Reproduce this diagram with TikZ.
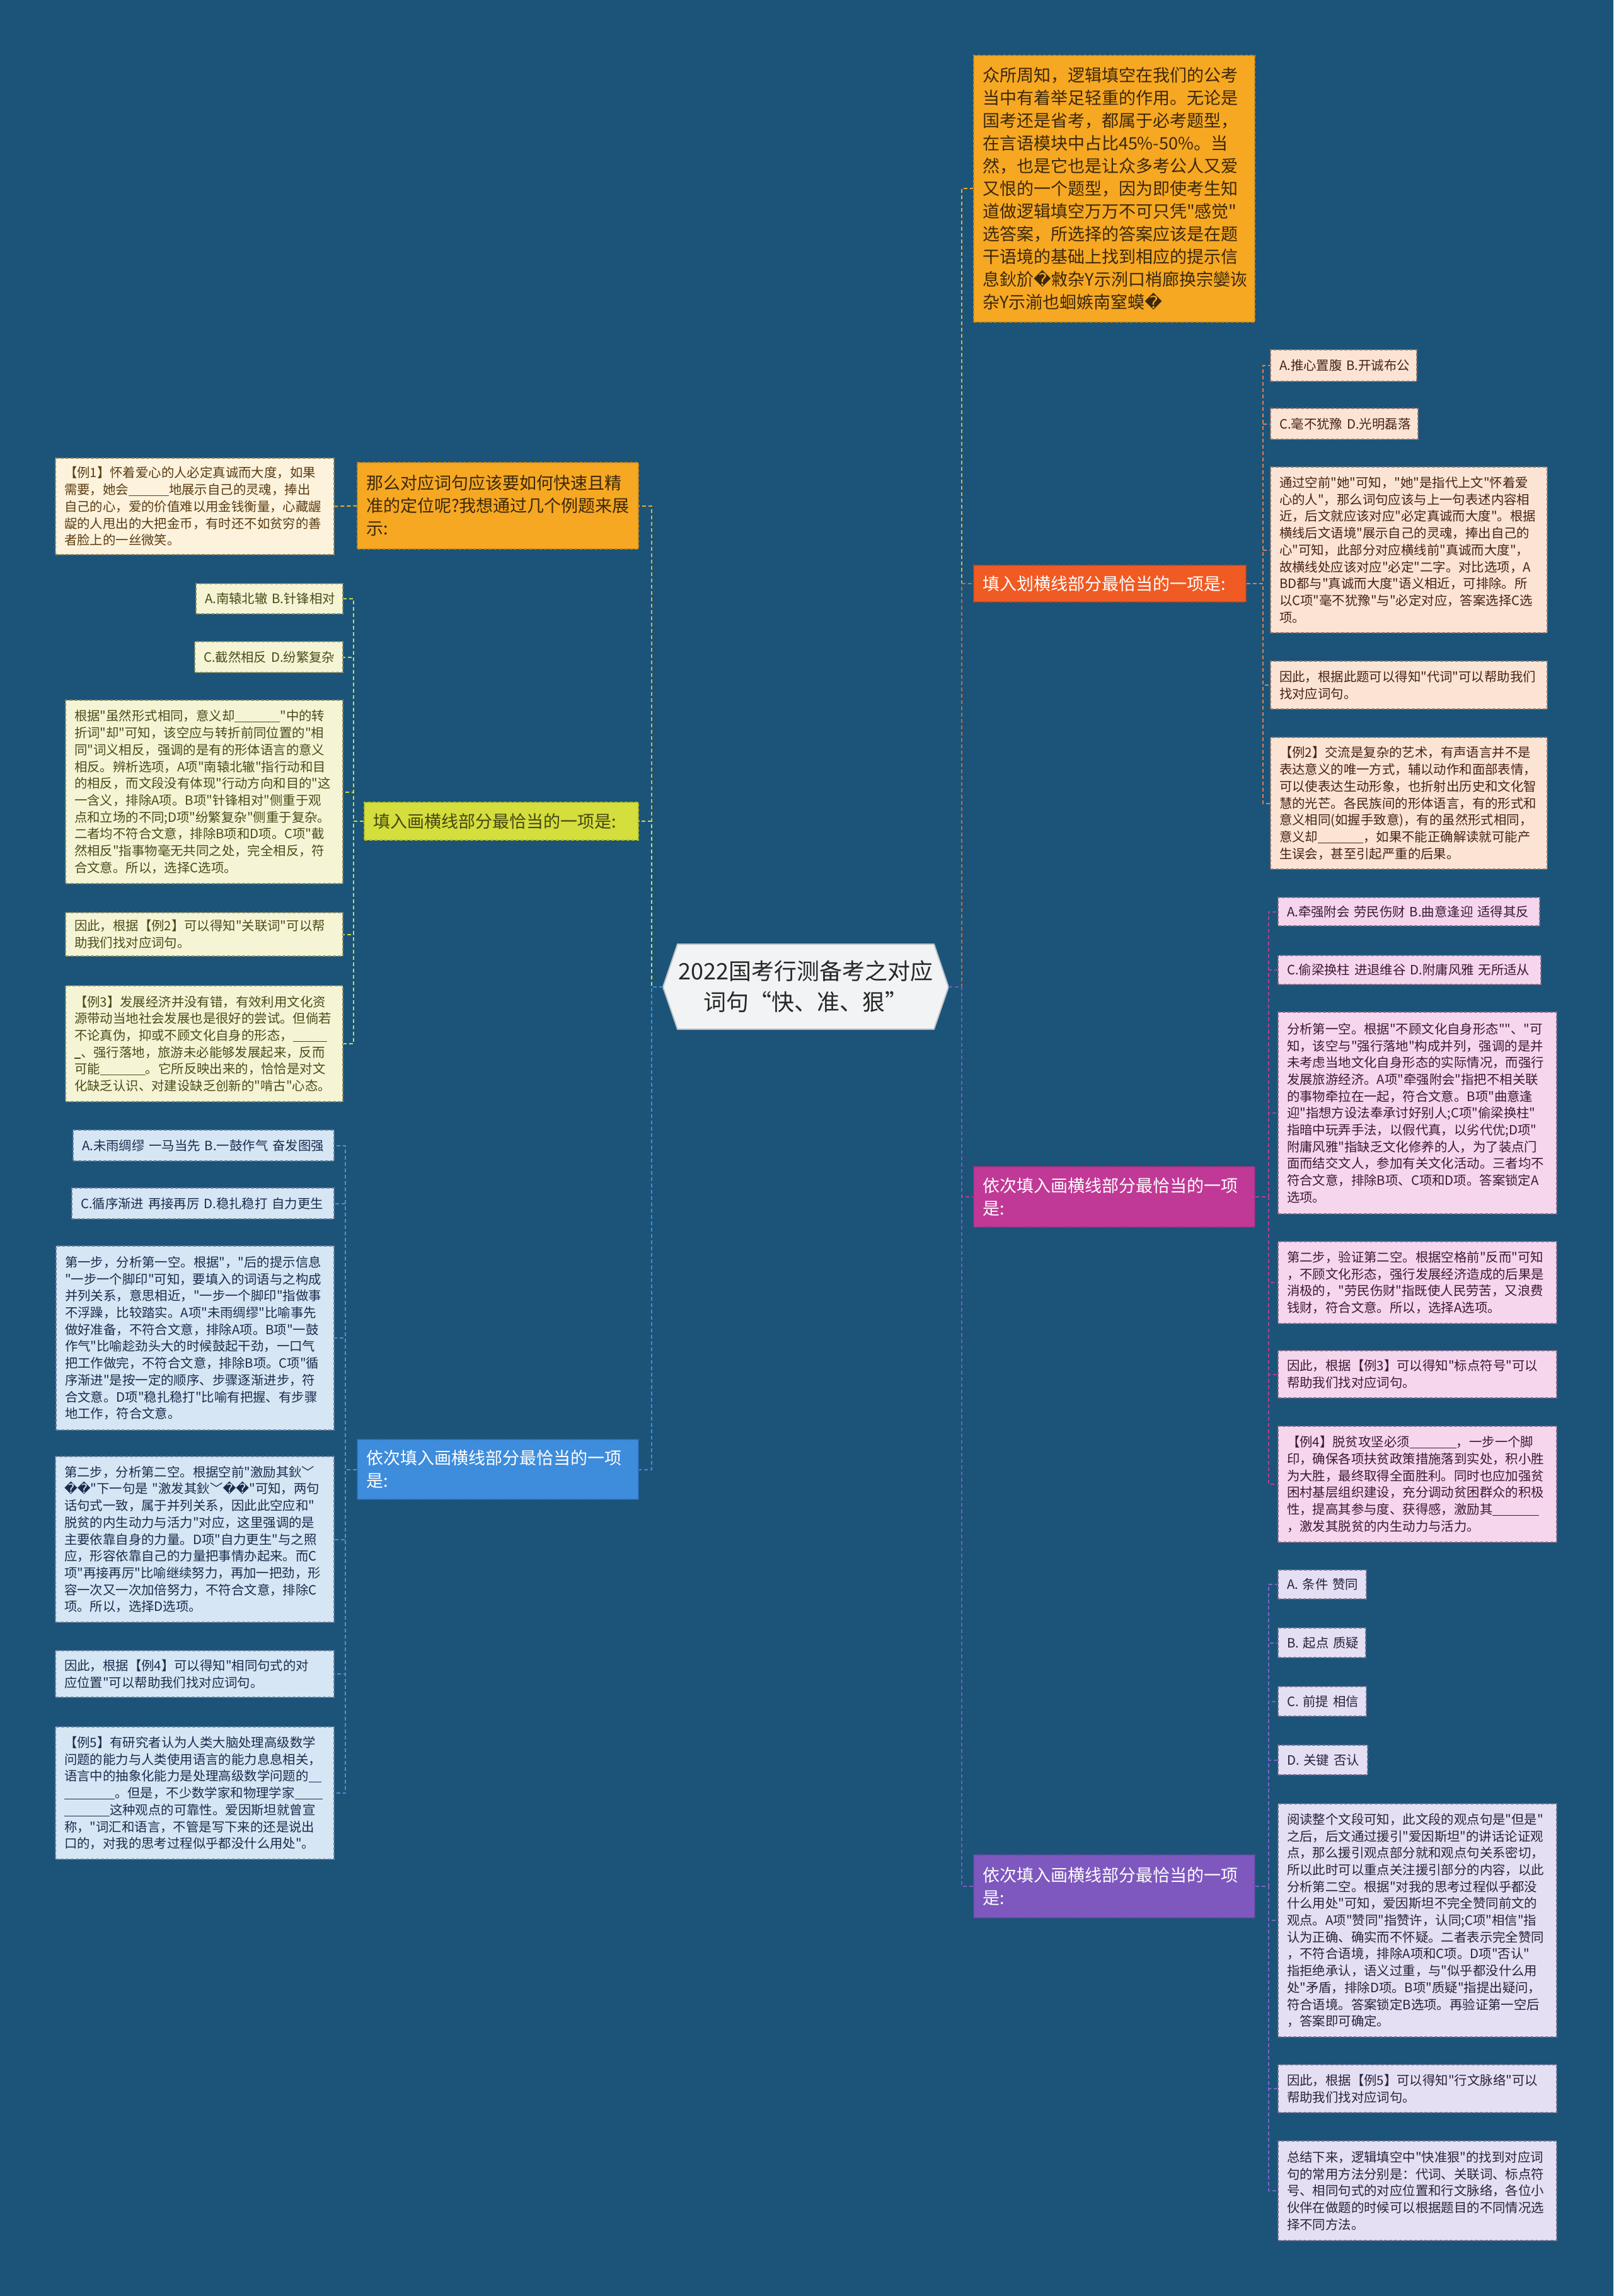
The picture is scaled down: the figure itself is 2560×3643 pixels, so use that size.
\documentclass[tikz,border=0pt]{standalone}
\usepackage{fontspec}
\newfontfamily\cjk{Noto Sans CJK SC}
\setmainfont{Noto Sans CJK SC}
\newfontfamily\dvfont{DejaVu Sans}
\newcommand\rc{{\dvfont\symbol{"FFFD}}}
\newcommand\blk[1]{\rule[-1.2pt]{#1pt}{0.6pt}}
\definecolor{bgC}{RGB}{27,84,120}
\definecolor{orF}{RGB}{246,168,35}
\definecolor{orD}{RGB}{205,135,20}
\definecolor{orT}{RGB}{60,40,10}
\definecolor{rdF}{RGB}{240,90,35}
\definecolor{rdD}{RGB}{200,70,25}
\definecolor{mgF}{RGB}{193,57,150}
\definecolor{mgD}{RGB}{160,45,125}
\definecolor{puF}{RGB}{126,88,190}
\definecolor{puD}{RGB}{100,70,160}
\definecolor{ylF}{RGB}{212,222,60}
\definecolor{ylD}{RGB}{175,185,40}
\definecolor{ylT}{RGB}{70,70,20}
\definecolor{blF}{RGB}{62,140,220}
\definecolor{blD}{RGB}{45,110,185}
\definecolor{peF}{RGB}{252,228,212}
\definecolor{peD}{RGB}{150,120,110}
\definecolor{peT}{RGB}{70,35,20}
\definecolor{pkF}{RGB}{245,214,236}
\definecolor{pkD}{RGB}{140,110,140}
\definecolor{pkT}{RGB}{60,25,55}
\definecolor{lvF}{RGB}{228,223,242}
\definecolor{lvD}{RGB}{120,115,150}
\definecolor{lvT}{RGB}{40,35,60}
\definecolor{crF}{RGB}{253,243,220}
\definecolor{crD}{RGB}{150,135,100}
\definecolor{crT}{RGB}{90,60,20}
\definecolor{yeF}{RGB}{245,245,214}
\definecolor{yeD}{RGB}{140,140,100}
\definecolor{yeT}{RGB}{75,75,25}
\definecolor{buF}{RGB}{214,230,245}
\definecolor{buD}{RGB}{110,130,160}
\definecolor{buT}{RGB}{25,45,75}
\definecolor{cenF}{RGB}{242,243,245}
\definecolor{cenD}{RGB}{190,195,200}
\definecolor{cenT}{RGB}{40,40,40}
\definecolor{cPe}{RGB}{215,130,85}
\definecolor{cPk}{RGB}{185,60,145}
\definecolor{cLv}{RGB}{125,100,195}
\definecolor{cYe}{RGB}{205,215,70}
\definecolor{cBu}{RGB}{75,145,215}
\newcommand\mybox[7]{%
 \pgfmathsetmacro\mbw{(#4-#2)*0.5}%
 \pgfmathsetmacro\mbh{(#5-#3)*0.5}%
 \pgfmathsetmacro\mbt{(#4-#2)*0.5-14}%
 \pgfmathsetmacro\mbx{(#2+#4)/2}%
 \pgfmathsetmacro\mby{(#3+#5)/2}%
 \node[#6, minimum width=\mbw pt, minimum height=\mbh pt, text width=\mbt pt] (#1) at (\mbx,\mby) {#7};}
\tikzset{
 bxbase/.style={rectangle, draw, line width=0.7pt, dash pattern=on 2.5pt off 1.5pt, align=left, inner xsep=7pt, inner ysep=4pt},
 kid/.style={bxbase, font=\cjk\fontsize{10.2}{13.35}\selectfont},
 lab/.style={bxbase, font=\cjk\fontsize{13.5}{18}\selectfont},
 peach/.style={kid, fill=peF, draw=peD, text=peT},
 pinkb/.style={kid, fill=pkF, draw=pkD, text=pkT},
 lavb/.style={kid, fill=lvF, draw=lvD, text=lvT},
 creamb/.style={kid, fill=crF, draw=crD, text=crT},
 yelb/.style={kid, fill=yeF, draw=yeD, text=yeT},
 blub/.style={kid, fill=buF, draw=buD, text=buT},
 orlab/.style={lab, fill=orF, draw=orD, text=orT},
 rdlab/.style={lab, fill=rdF, draw=rdD, text=white},
 mglab/.style={lab, fill=mgF, draw=mgD, text=white},
 pulab/.style={lab, fill=puF, draw=puD, text=white},
 yllab/.style={lab, fill=ylF, draw=ylD, text=ylT},
 bllab/.style={lab, fill=blF, draw=blD, text=white},
 cn/.style={line width=1pt, dash pattern=on 3pt off 2pt},
}
\begin{document}
\begin{tikzpicture}[x=0.5pt,y=-0.5pt]
\useasboundingbox (0,0) rectangle (2560,3643);
\fill[bgC] (0,0) rectangle (2560,3643);

% centre
\filldraw[fill=cenF, draw=cenD, line width=1pt] (1052,1566) -- (1075,1498) -- (1482,1498) -- (1505,1566) -- (1482,1633) -- (1075,1633) -- cycle;
\node[font=\cjk\fontsize{18}{24.5}\selectfont, align=center, text=cenT, minimum width=226.5pt, minimum height=67.5pt, inner sep=0pt] (c) at (1278.5,1565.5) {2022国考行测备考之对应\\词句“快、准、狠”};

% right main branches
\mybox{t1}{1545}{88}{1991}{511}{orlab}{众所周知，逻辑填空在我们的公考\\当中有着举足轻重的作用。无论是\\国考还是省考，都属于必考题型，\\在言语模块中占比45\%-50\%。当\\然，也是它也是让众多考公人又爱\\又恨的一个题型，因为即使考生知\\道做逻辑填空万万不可只凭"感觉"\\选答案，所选择的答案应该是在题\\干语境的基础上找到相应的提示信\\息鈥斺\rc 敹杂Y示洌口梢廊换宗孌诙\\杂Y示湔也蛔嫉南窒蟆\rc}
\mybox{r1}{1545}{897}{1977}{955}{rdlab}{填入划横线部分最恰当的一项是:}
\mybox{m1}{1545}{1851}{1991}{1947}{mglab}{依次填入画横线部分最恰当的一项\\是:}
\mybox{u1}{1545}{2943}{1991}{3043}{pulab}{依次填入画横线部分最恰当的一项\\是:}

% left main branches
\mybox{l1}{567}{734}{1013}{871}{orlab}{那么对应词句应该要如何快速且精\\准的定位呢?我想通过几个例题来展\\示:}
\mybox{yl}{578}{1273}{1013}{1333}{yllab}{填入画横线部分最恰当的一项是:}
\mybox{bl}{567}{2284}{1013}{2379}{bllab}{依次填入画横线部分最恰当的一项\\是:}

% peach children
\mybox{p1}{2016}{555}{2248}{605}{peach}{A.推心置腹~B.开诚布公}
\mybox{p2}{2016}{648}{2250}{697}{peach}{C.毫不犹豫~D.光明磊落}
\mybox{p3}{2016}{741}{2455}{1004}{peach}{通过空前"她"可知，"她"是指代上文"怀着爱\\心的人"，那么词句应该与上一句表述内容相\\近，后文就应该对应"必定真诚而大度"。根据\\横线后文语境"展示自己的灵魂，捧出自己的\\心"可知，此部分对应横线前"真诚而大度"，\\故横线处应该对应"必定"二字。对比选项，A\\BD都与"真诚而大度"语义相近，可排除。所\\以C项"毫不犹豫"与"必定对应，答案选择C选\\项。}
\mybox{p4}{2016}{1049}{2455}{1125}{peach}{因此，根据此题可以得知"代词"可以帮助我们\\找对应词句。}
\mybox{p5}{2016}{1170}{2455}{1379}{peach}{【例2】交流是复杂的艺术，有声语言并不是\\表达意义的唯一方式，辅以动作和面部表情，\\可以使表达生动形象，也折射出历史和文化智\\慧的光芒。各民族间的形体语言，有的形式和\\意义相同(如握手致意)，有的虽然形式相同，\\意义却\blk{36}，如果不能正确解读就可能产\\生误会，甚至引起严重的后果。}

% pink children
\mybox{k1}{2028}{1424}{2443}{1469}{pinkb}{A.牵强附会~劳民伤财~B.曲意逢迎~适得其反}
\mybox{k2}{2028}{1516}{2445}{1562}{pinkb}{C.偷梁换柱~进退维谷~D.附庸风雅~无所适从}
\mybox{k3}{2028}{1606}{2470}{1926}{pinkb}{分析第一空。根据"不顾文化自身形态""、"可\\知，该空与"强行落地"构成并列，强调的是并\\未考虑当地文化自身形态的实际情况，而强行\\发展旅游经济。A项"牵强附会"指把不相关联\\的事物牵拉在一起，符合文意。B项"曲意逢\\迎"指想方设法奉承讨好别人;C项"偷梁换柱"\\指暗中玩弄手法，以假代真，以劣代优;D项"\\附庸风雅"指缺乏文化修养的人，为了装点门\\面而结交文人，参加有关文化活动。三者均不\\符合文意，排除B项、C项和D项。答案锁定A\\选项。}
\mybox{k4}{2028}{1970}{2470}{2100}{pinkb}{第二步，验证第二空。根据空格前"反而"可知\\，不顾文化形态，强行发展经济造成的后果是\\消极的，"劳民伤财"指既使人民劳苦，又浪费\\钱财，符合文意。所以，选择A选项。}
\mybox{k5}{2028}{2143}{2470}{2218}{pinkb}{因此，根据【例3】可以得知"标点符号"可以\\帮助我们找对应词句。}
\mybox{k6}{2028}{2263}{2470}{2447}{pinkb}{【例4】脱贫攻坚必须\blk{37}，一步一个脚\\印，确保各项扶贫政策措施落到实处，积小胜\\为大胜，最终取得全面胜利。同时也应加强贫\\困村基层组织建设，充分调动贫困群众的积极\\性，提高其参与度、获得感，激励其\blk{37}\\，激发其脱贫的内生动力与活力。}

% lavender children
\mybox{v1}{2028}{2491}{2168}{2537}{lavb}{A.~条件~赞同}
\mybox{v2}{2028}{2583}{2167}{2630}{lavb}{B.~起点~质疑}
\mybox{v3}{2028}{2676}{2168}{2723}{lavb}{C.~前提~相信}
\mybox{v4}{2028}{2769}{2170}{2816}{lavb}{D.~关键~否认}
\mybox{v5}{2028}{2862}{2470}{3232}{lavb}{阅读整个文段可知，此文段的观点句是"但是"\\之后，后文通过援引"爱因斯坦"的讲话论证观\\点，那么援引观点部分就和观点句关系密切，\\所以此时可以重点关注援引部分的内容，以此\\分析第二空。根据"对我的思考过程似乎都没\\什么用处"可知，爱因斯坦不完全赞同前文的\\观点。A项"赞同"指赞许，认同;C项"相信"指\\认为正确、确实而不怀疑。二者表示完全赞同\\，不符合语境，排除A项和C项。D项"否认"\\指拒绝承认，语义过重，与"似乎都没什么用\\处"矛盾，排除D项。B项"质疑"指提出疑问，\\符合语境。答案锁定B选项。再验证第一空后\\，答案即可确定。}
\mybox{v6}{2028}{3276}{2470}{3352}{lavb}{因此，根据【例5】可以得知"行文脉络"可以\\帮助我们找对应词句。}
\mybox{v7}{2028}{3397}{2470}{3555}{lavb}{总结下来，逻辑填空中"快准狠"的找到对应词\\句的常用方法分别是：代词、关联词、标点符\\号、相同句式的对应位置和行文脉络，各位小\\伙伴在做题的时候可以根据题目的不同情况选\\择不同方法。}

% left: example 1
\mybox{e1}{88}{727}{530}{880}{creamb}{【例1】怀着爱心的人必定真诚而大度，如果\\需要，她会\blk{32}地展示自己的灵魂，捧出\\自己的心，爱的价值难以用金钱衡量，心藏龌\\龊的人甩出的大把金币，有时还不如贫穷的善\\者脸上的一丝微笑。}

% yellow children
\mybox{y1}{311}{926}{544}{974}{yelb}{A.南辕北辙~B.针锋相对}
\mybox{y2}{309}{1018}{544}{1067}{yelb}{C.截然相反~D.纷繁复杂}
\mybox{y3}{104}{1111}{544}{1402}{yelb}{根据"虽然形式相同，意义却\blk{36}"中的转\\折词"却"可知，该空应与转折前同位置的"相\\同"词义相反，强调的是有的形体语言的意义\\相反。辨析选项，A项"南辕北辙"指行动和目\\的相反，而文段没有体现"行动方向和目的"这\\一含义，排除A项。B项"针锋相对"侧重于观\\点和立场的不同;D项"纷繁复杂"侧重于复杂。\\二者均不符合文意，排除B项和D项。C项"截\\然相反"指事物毫无共同之处，完全相反，符\\合文意。所以，选择C选项。}
\mybox{y4}{104}{1448}{544}{1517}{yelb}{因此，根据【例2】可以得知"关联词"可以帮\\助我们找对应词句。}
\mybox{y5}{104}{1564}{544}{1748}{yelb}{【例3】发展经济并没有错，有效利用文化资\\源带动当地社会发展也是很好的尝试。但倘若\\不论真伪，抑或不顾文化自身的形态，\blk{27}\\\blk{5}、强行落地，旅游未必能够发展起来，反而\\可能\blk{36}。它所反映出来的，恰恰是对文\\化缺乏认识、对建设缺乏创新的"啃古"心态。}

% blue children
\mybox{b1}{116}{1793}{530}{1842}{blub}{A.未雨绸缪~一马当先~B.一鼓作气~奋发图强}
\mybox{b2}{114}{1885}{530}{1934}{blub}{C.循序渐进~再接再厉~D.稳扎稳打~自力更生}
\mybox{b3}{89}{1977}{530}{2269}{blub}{第一步，分析第一空。根据"，"后的提示信息\\"一步一个脚印"可知，要填入的词语与之构成\\并列关系，意思相近，"一步一个脚印"指做事\\不浮躁，比较踏实。A项"未雨绸缪"比喻事先\\做好准备，不符合文意，排除A项。B项"一鼓\\作气"比喻趁劲头大的时候鼓起干劲，一口气\\把工作做完，不符合文意，排除B项。C项"循\\序渐进"是按一定的顺序、步骤逐渐进步，符\\合文意。D项"稳扎稳打"比喻有把握、有步骤\\地工作，符合文意。}
\mybox{b4}{88}{2311}{530}{2574}{blub}{第二步，分析第二空。根据空前"激励其鈥﹀\\\rc\rc"下一句是~"激发其鈥﹀\rc\rc"可知，两句\\话句式一致，属于并列关系，因此此空应和"\\脱贫的内生动力与活力"对应，这里强调的是\\主要依靠自身的力量。D项"自力更生"与之照\\应，形容依靠自己的力量把事情办起来。而C\\项"再接再厉"比喻继续努力，再加一把劲，形\\容一次又一次加倍努力，不符合文意，排除C\\项。所以，选择D选项。}
\mybox{b5}{88}{2619}{530}{2693}{blub}{因此，根据【例4】可以得知"相同句式的对\\应位置"可以帮助我们找对应词句。}
\mybox{b6}{88}{2740}{530}{2950}{blub}{【例5】有研究者认为人类大脑处理高级数学\\问题的能力与人类使用语言的能力息息相关，\\语言中的抽象化能力是处理高级数学问题的\blk{10}\\\blk{40}。但是，不少数学家和物理学家\blk{22}\\\blk{36}这种观点的可靠性。爱因斯坦就曾宣\\称，"词汇和语言，不管是写下来的还是说出\\口的，对我的思考过程似乎都没什么用处"。}

% main connectors
\draw[cn, orF] (c.east) -- ++(21,0) |- (t1.west);
\draw[cn, rdF] (c.east) -- ++(21,0) |- (r1.west);
\draw[cn, mgF] (c.east) -- ++(21,0) |- (m1.west);
\draw[cn, puF] (c.east) -- ++(21,0) |- (u1.west);
\draw[cn, orF] (c.west) -- ++(-18,0) |- (l1.east);
\draw[cn, ylF] (c.west) -- ++(-18,0) |- (yl.east);
\draw[cn, blF] (c.west) -- ++(-18,0) |- (bl.east);

% child connectors
\foreach \k in {p1,p2,p3,p4,p5} \draw[cn, cPe] (r1.east) -- ++(26,0) |- (\k.west);
\foreach \k in {k1,k2,k3,k4,k5,k6} \draw[cn, cPk] (m1.east) -- ++(21,0) |- (\k.west);
\foreach \k in {v1,v2,v3,v4,v5,v6,v7} \draw[cn, cLv] (u1.east) -- ++(21,0) |- (\k.west);
\draw[cn, orF] (l1.west) -- (e1.east);
\foreach \k in {y1,y2,y3,y4,y5} \draw[cn, cYe] (yl.west) -- ++(-16,0) |- (\k.east);
\foreach \k in {b1,b2,b3,b4,b5,b6} \draw[cn, cBu] (bl.west) -- ++(-18,0) |- (\k.east);
\end{tikzpicture}
\end{document}
